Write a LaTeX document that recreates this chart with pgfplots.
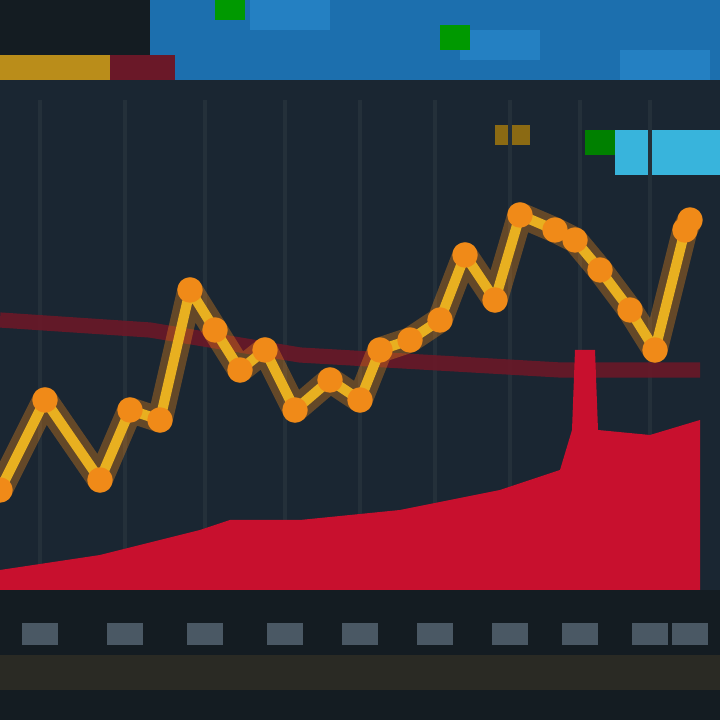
\documentclass[border=0pt]{standalone}
\usepackage{pgfplots}
\pgfplotsset{compat=1.18}
\definecolor{bgdark}{HTML}{141C22}
\definecolor{bgnavy}{HTML}{1A2632}
\definecolor{hdrblue}{HTML}{1C6FAE}
\definecolor{hdrlight}{HTML}{2A8CD0}
\definecolor{lineyel}{HTML}{E8B020}
\definecolor{lineor}{HTML}{F08A18}
\definecolor{areared}{HTML}{C8102E}
\definecolor{bandred}{HTML}{6A1828}
\definecolor{tickgray}{HTML}{4A5864}
\definecolor{gridc}{HTML}{24303A}
\definecolor{bottomband}{HTML}{2A2A24}
\definecolor{cyanbox}{HTML}{38B4DC}
\begin{document}
\begin{tikzpicture}
\begin{axis}[
  scale only axis, width=10cm, height=10cm,
  xmin=0, xmax=720, ymin=0, ymax=720,
  axis lines=none, ticks=none, clip=true, clip marker paths=true,
]
% background
\addplot[draw=none, fill=bgdark] coordinates {(0,0)(720,0)(720,720)(0,720)} -- cycle;
\addplot[draw=none, fill=bgnavy] coordinates {(0,130)(720,130)(720,640)(0,640)} -- cycle;
% header
\addplot[draw=none, fill=hdrblue] coordinates {(150,640)(720,640)(720,720)(150,720)} -- cycle;
\addplot[draw=none, fill=hdrlight, opacity=0.6] coordinates {(250,690)(330,690)(330,720)(250,720)} -- cycle;
\addplot[draw=none, fill=hdrlight, opacity=0.6] coordinates {(460,660)(540,660)(540,690)(460,690)} -- cycle;
\addplot[draw=none, fill=hdrlight, opacity=0.6] coordinates {(620,640)(710,640)(710,670)(620,670)} -- cycle;
\addplot[draw=none, fill=green!60!black] coordinates {(215,700)(245,700)(245,720)(215,720)} -- cycle;
\addplot[draw=none, fill=green!60!black] coordinates {(440,670)(470,670)(470,695)(440,695)} -- cycle;
\addplot[draw=none, fill=lineyel!80!black] coordinates {(0,640)(110,640)(110,665)(0,665)} -- cycle;
\addplot[draw=none, fill=bandred] coordinates {(110,640)(175,640)(175,665)(110,665)} -- cycle;
\addplot[draw=none, fill=lineyel!60!black] coordinates {(495,575)(530,575)(530,595)(495,595)} -- cycle;
\addplot[draw=none, fill=green!50!black] coordinates {(585,565)(615,565)(615,590)(585,590)} -- cycle;
\addplot[draw=none, fill=cyanbox] coordinates {(615,545)(720,545)(720,590)(615,590)} -- cycle;
% grid
\pgfplotsinvokeforeach{40,125,205,285,360,435,510,580,650}{
  \addplot[gridc, line width=1.5pt] coordinates {(#1,130)(#1,620)};
}
% dark red band
\addplot[bandred, line width=6pt, opacity=0.9] coordinates {(0,400)(150,390)(300,365)(560,350)(700,350)};
% red area
\addplot[draw=none, fill=areared] coordinates {
  (0,130)(0,150)(100,165)(200,190)(230,200)(300,200)(400,210)(500,230)
  (560,250)(572,290)(575,370)(595,370)(598,290)(650,285)(700,300)(700,130)} -- cycle;
% yellow line (glow)
\addplot[lineor, line width=10pt, opacity=0.35, line join=round] coordinates {
  (0,230)(45,320)(100,240)(130,310)(160,300)(190,430)(215,390)(240,350)(265,370)
  (295,310)(330,340)(360,320)(380,370)(410,380)(440,400)(465,465)(495,420)
  (520,505)(555,490)(575,480)(600,450)(630,410)(655,370)(685,490)(690,500)};
\addplot[lineyel, line width=4pt, line join=round,
  mark=*, mark size=3pt, mark options={fill=lineor, draw=lineor}] coordinates {
  (0,230)(45,320)(100,240)(130,310)(160,300)(190,430)(215,390)(240,350)(265,370)
  (295,310)(330,340)(360,320)(380,370)(410,380)(440,400)(465,465)(495,420)
  (520,505)(555,490)(575,480)(600,450)(630,410)(655,370)(685,490)(690,500)};
% bottom tick blobs
\pgfplotsinvokeforeach{40,125,205,285,360,435,510,580,650,690}{
  \addplot[draw=none, fill=tickgray] coordinates {(#1-18,75)(#1+18,75)(#1+18,97)(#1-18,97)} -- cycle;
}
\addplot[draw=none, fill=bottomband] coordinates {(0,30)(720,30)(720,65)(0,65)} -- cycle;
\end{axis}
\end{tikzpicture}
\end{document}
